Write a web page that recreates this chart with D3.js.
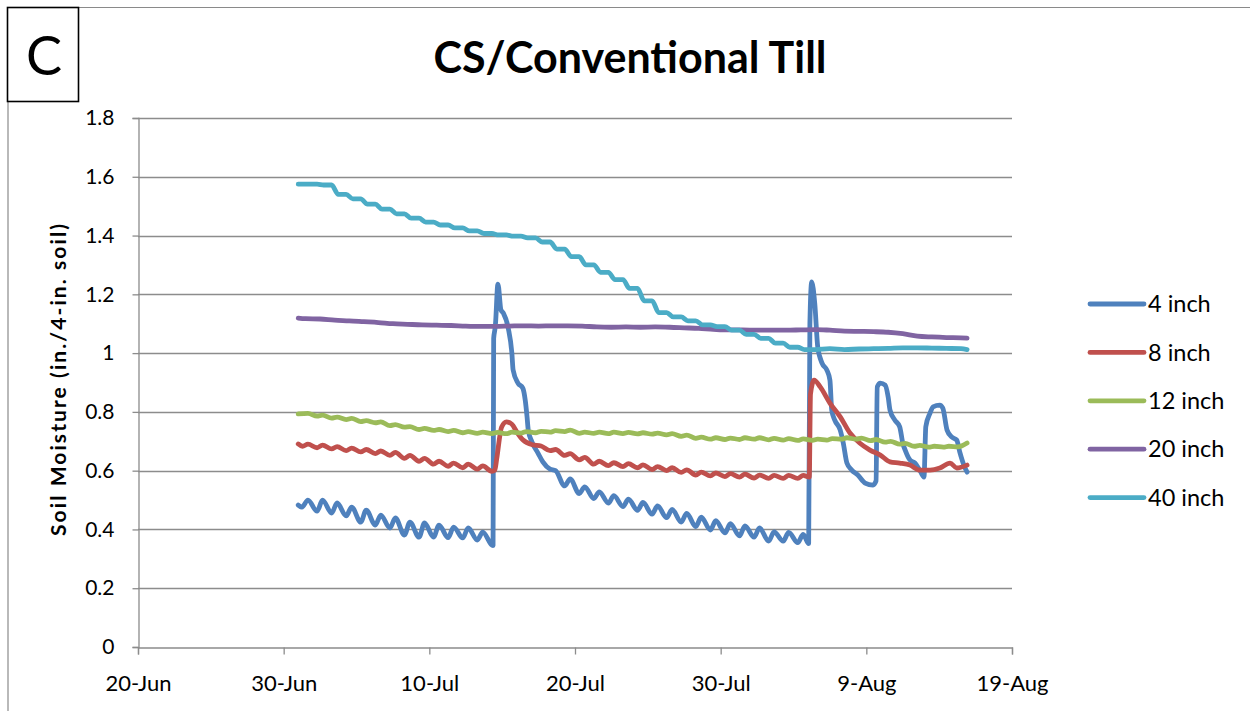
<!DOCTYPE html>
<html>
<head>
<meta charset="utf-8">
<script src="https://cdn.jsdelivr.net/npm/d3@7"></script>
<style>
  body { margin: 0; background: #fff; }
  svg { display: block; }
  text { font-family: Lato, "Open Sans", sans-serif; fill: #000; }
</style>
</head>
<body>
<div id="chart"></div>
<script>
const title = "CS/Conventional Till";
const panelLetter = "C";
const yLabel = "Soil Moisture (in./4-in. soil)";
const seriesNames = ["4 inch", "8 inch", "12 inch", "20 inch", "40 inch"];
const seriesColors = ["#4F81BD", "#C0504D", "#9BBB59", "#8064A2", "#4BACC6"];
const xTicks = ["6/20 00", "6/30 00", "7/10 00", "7/20 00", "7/30 00", "8/9 00", "8/19 00"];
const yTicks = [0, 0.2, 0.4, 0.6, 0.8, 1, 1.2, 1.4, 1.6, 1.8];

// readings: [month/day hour, in. water per 4 in. soil]
const inch4 = [
  ["7/1 00",.483],["7/1 06",.476],["7/1 16",.500],["7/2 07",.462],["7/2 16",.500],["7/3 07",.456],["7/3 16",.490],
  ["7/4 07",.446],["7/4 16",.476],["7/5 07",.425],["7/5 16",.466],["7/6 07",.415],["7/6 16",.449],["7/7 07",.405],
  ["7/7 16",.439],["7/8 07",.381],["7/8 16",.425],["7/9 07",.374],["7/9 16",.422],["7/10 07",.374],["7/10 16",.415],
  ["7/11 07",.372],["7/11 16",.408],["7/12 07",.371],["7/12 16",.405],["7/13 07",.364],["7/13 16",.391],["7/14 07",.347],
  ["7/14 09",.345],["7/14 10",1.05],["7/14 12",1.08],["7/14 13",1.10],["7/14 17",1.235],["7/14 22",1.147],["7/15 02",1.136],
  ["7/15 10",1.085],["7/15 16",1.0],["7/15 18",.943],["7/16 02",.898],["7/16 10",.881],["7/16 14",.84],["7/16 17",.783],
  ["7/16 19",.738],["7/17 01",.698],["7/17 11",.66],["7/17 19",.63],["7/18 07",.605],["7/18 16",.60],["7/19 07",.548],
  ["7/19 16",.572],["7/20 07",.522],["7/20 16",.545],["7/21 07",.505],["7/21 16",.528],["7/22 07",.49],["7/22 16",.515],
  ["7/23 07",.478],["7/23 16",.503],["7/24 07",.465],["7/24 16",.492],["7/25 07",.452],["7/25 16",.48],["7/26 07",.44],
  ["7/26 16",.468],["7/27 07",.425],["7/27 16",.455],["7/28 07",.41],["7/28 16",.442],["7/29 07",.398],["7/29 16",.43],
  ["7/30 07",.388],["7/30 16",.42],["7/31 07",.378],["7/31 16",.412],["8/1 07",.374],["8/1 16",.405],["8/2 07",.36],
  ["8/2 16",.392],["8/3 07",.36],["8/3 16",.39],["8/4 07",.355],["8/4 16",.383],["8/5 01",.352],["8/5 03",1.10],
  ["8/5 06",1.242],["8/5 11",1.17],["8/5 16",1.02],["8/5 23",.966],["8/6 07",.942],["8/6 12",.908],["8/6 15",.806],
  ["8/6 20",.772],["8/7 05",.738],["8/7 10",.694],["8/7 16",.626],["8/8 00",.602],["8/8 10",.585],["8/8 22",.558],
  ["8/9 11",.551],["8/9 16",.565],["8/9 18",.885],["8/9 23",.898],["8/10 07",.891],["8/10 12",.85],["8/10 15",.806],
  ["8/10 23",.772],["8/11 07",.749],["8/11 12",.694],["8/11 16",.67],["8/12 00",.636],["8/12 08",.626],["8/12 16",.602],
  ["8/12 23",.578],["8/13 02",.75],["8/13 09",.796],["8/13 14",.817],["8/14 01",.823],["8/14 06",.813],["8/14 13",.738],
  ["8/14 21",.714],["8/15 05",.704],["8/15 10",.663],["8/15 18",.612],["8/15 22",.595]
];

const inch8 = [
  ["7/1 00",.691],["7/1 07",.683],["7/1 16",.690],["7/2 07",.678],["7/2 16",.687],["7/3 07",.674],["7/3 16",.682],
  ["7/4 07",.668],["7/4 16",.677],["7/5 07",.664],["7/5 16",.672],["7/6 07",.658],["7/6 16",.667],["7/7 07",.652],
  ["7/7 16",.662],["7/8 07",.642],["7/8 16",.652],["7/9 07",.632],["7/9 16",.642],["7/10 07",.622],["7/10 16",.632],
  ["7/11 07",.615],["7/11 16",.626],["7/12 07",.610],["7/12 16",.622],["7/13 07",.605],["7/13 16",.616],["7/14 07",.598],
  ["7/14 12",.602],["7/14 15",.64],["7/14 23",.748],["7/15 07",.766],["7/15 16",.758],["7/16 00",.732],["7/16 10",.705],
  ["7/17 02",.688],["7/17 16",.684],["7/18 07",.668],["7/18 16",.672],["7/19 07",.652],["7/19 16",.658],["7/20 07",.637],
  ["7/20 16",.645],["7/21 07",.622],["7/21 16",.632],["7/22 07",.617],["7/22 16",.627],["7/23 07",.614],["7/23 16",.624],
  ["7/24 07",.610],["7/24 16",.620],["7/25 07",.604],["7/25 16",.614],["7/26 07",.600],["7/26 16",.610],["7/27 07",.594],
  ["7/27 16",.603],["7/28 07",.585],["7/28 16",.595],["7/29 07",.582],["7/29 16",.592],["7/30 07",.580],["7/30 16",.590],
  ["7/31 07",.578],["7/31 16",.588],["8/1 07",.575],["8/1 16",.585],["8/2 07",.574],["8/2 16",.584],["8/3 07",.574],
  ["8/3 16",.584],["8/4 07",.574],["8/4 16",.584],["8/5 02",.578],["8/5 04",.86],["8/5 10",.908],["8/5 20",.885],
  ["8/6 12",.83],["8/7 05",.783],["8/7 21",.728],["8/8 13",.694],["8/9 06",.67],["8/9 23",.653],["8/10 15",.63],
  ["8/11 07",.626],["8/12 00",.619],["8/12 16",.602],["8/13 09",.602],["8/14 01",.609],["8/14 18",.626],["8/15 05",.609],
  ["8/15 22",.619]
];

const inch12 = [
  ["7/1 00",.793],["7/1 16",.795],["7/2 07",.786],["7/2 16",.789],["7/3 07",.779],["7/3 16",.782],["7/4 07",.774],
  ["7/4 16",.778],["7/5 07",.767],["7/5 16",.770],["7/6 07",.763],["7/6 16",.766],["7/7 07",.753],["7/7 16",.757],
  ["7/8 07",.748],["7/8 16",.750],["7/9 07",.740],["7/9 16",.744],["7/10 07",.737],["7/10 16",.740],["7/11 07",.733],
  ["7/11 16",.737],["7/12 07",.729],["7/12 16",.733],["7/13 07",.727],["7/13 16",.731],["7/14 07",.726],["7/14 16",.730],
  ["7/15 07",.726],["7/15 16",.731],["7/16 07",.728],["7/16 16",.733],["7/17 07",.729],["7/17 16",.734],["7/18 07",.731],
  ["7/18 16",.736],["7/19 07",.733],["7/19 16",.738],["7/20 07",.727],["7/20 16",.731],["7/21 07",.727],["7/21 16",.731],
  ["7/22 07",.726],["7/22 16",.731],["7/23 07",.726],["7/23 16",.730],["7/24 07",.725],["7/24 16",.729],["7/25 07",.724],
  ["7/25 16",.728],["7/26 07",.722],["7/26 16",.726],["7/27 07",.717],["7/27 16",.721],["7/28 07",.710],["7/28 16",.714],
  ["7/29 07",.707],["7/29 16",.712],["7/30 07",.706],["7/30 16",.711],["7/31 07",.706],["7/31 16",.712],["8/1 07",.707],
  ["8/1 16",.712],["8/2 07",.705],["8/2 16",.710],["8/3 07",.704],["8/3 16",.709],["8/4 07",.703],["8/4 16",.708],
  ["8/5 07",.703],["8/5 16",.707],["8/6 07",.704],["8/6 16",.709],["8/7 07",.707],["8/7 16",.712],["8/8 07",.707],
  ["8/8 16",.711],["8/9 07",.702],["8/9 16",.706],["8/10 07",.697],["8/10 16",.700],["8/11 07",.690],["8/11 16",.693],
  ["8/12 07",.683],["8/12 16",.686],["8/13 07",.680],["8/13 16",.683],["8/14 07",.680],["8/14 16",.683],["8/15 07",.681],
  ["8/15 22",.694]
];

const inch20 = [
  ["7/1 00",1.119],["7/1 12",1.117],["7/2 12",1.116],["7/3 12",1.112],["7/4 12",1.110],["7/5 12",1.107],["7/6 12",1.104],
  ["7/7 12",1.100],["7/8 12",1.098],["7/9 12",1.096],["7/10 12",1.095],["7/11 12",1.094],["7/12 12",1.092],["7/13 12",1.091],
  ["7/14 12",1.091],["7/15 12",1.092],["7/16 12",1.093],["7/17 12",1.092],["7/18 12",1.093],["7/19 12",1.093],["7/20 12",1.092],
  ["7/21 12",1.089],["7/22 12",1.088],["7/23 12",1.089],["7/24 12",1.088],["7/25 12",1.089],["7/26 12",1.088],["7/27 12",1.086],
  ["7/28 12",1.084],["7/29 12",1.081],["7/30 12",1.079],["7/31 12",1.079],["8/1 12",1.078],["8/2 12",1.078],["8/3 12",1.078],
  ["8/4 12",1.079],["8/5 12",1.080],["8/6 12",1.078],["8/7 12",1.075],["8/8 12",1.074],["8/9 12",1.073],["8/10 12",1.071],
  ["8/11 12",1.066],["8/12 12",1.058],["8/13 12",1.055],["8/14 12",1.053],["8/15 12",1.052],["8/15 22",1.051]
];

const inch40 = [
  ["7/1 00",1.575],["7/1 07",1.575],["7/1 18",1.575],["7/2 07",1.575],["7/2 18",1.572],["7/3 07",1.572],["7/3 18",1.540],
  ["7/4 07",1.540],["7/4 18",1.525],["7/5 07",1.525],["7/5 18",1.507],["7/6 07",1.507],["7/6 18",1.490],["7/7 07",1.490],
  ["7/7 18",1.474],["7/8 07",1.474],["7/8 18",1.459],["7/9 07",1.459],["7/9 18",1.446],["7/10 07",1.446],["7/10 18",1.436],
  ["7/11 07",1.436],["7/11 18",1.426],["7/12 07",1.426],["7/12 18",1.416],["7/13 07",1.416],["7/13 18",1.407],["7/14 07",1.407],
  ["7/14 18",1.402],["7/15 07",1.402],["7/15 18",1.398],["7/16 07",1.398],["7/16 18",1.392],["7/17 07",1.392],["7/17 18",1.378],
  ["7/18 07",1.378],["7/18 18",1.354],["7/19 07",1.354],["7/19 18",1.328],["7/20 07",1.328],["7/20 18",1.300],["7/21 07",1.300],
  ["7/21 18",1.275],["7/22 07",1.275],["7/22 18",1.250],["7/23 07",1.250],["7/23 18",1.220],["7/24 07",1.220],["7/24 18",1.178],
  ["7/25 07",1.178],["7/25 18",1.138],["7/26 07",1.138],["7/26 18",1.123],["7/27 07",1.123],["7/27 18",1.110],["7/28 07",1.110],
  ["7/28 18",1.096],["7/29 07",1.096],["7/29 18",1.090],["7/30 07",1.090],["7/30 18",1.078],["7/31 07",1.078],["7/31 18",1.064],
  ["8/1 07",1.064],["8/1 18",1.050],["8/2 07",1.050],["8/2 18",1.034],["8/3 07",1.034],["8/3 18",1.020],["8/4 07",1.020],
  ["8/4 18",1.012],["8/5 12",1.012],["8/6 12",1.015],["8/7 12",1.012],["8/8 12",1.014],["8/9 12",1.015],["8/10 12",1.016],
  ["8/11 12",1.018],["8/12 12",1.018],["8/13 12",1.017],["8/14 12",1.016],["8/15 12",1.015],["8/15 22",1.012]
];

const allSeries = [inch4, inch8, inch12, inch20, inch40];

const width = 1250, height = 711;
const parse = d3.timeParse("%m/%d %H");
const fmt = d3.timeFormat("%-d-%b");

const svg = d3.select("#chart").append("svg")
  .attr("width", width)
  .attr("height", height);

svg.append("rect").attr("width", width).attr("height", height).attr("fill", "#fff");

const x = d3.scaleTime()
  .domain([parse(xTicks[0]), parse(xTicks[xTicks.length - 1])])
  .range([138, 1012]);

const y = d3.scaleLinear()
  .domain([0, 1.8])
  .range([647, 118]);

// outer frame and panel letter
svg.append("line").attr("x1", 79).attr("x2", width).attr("y1", 7.5).attr("y2", 7.5)
  .attr("stroke", "#8a8a8a").attr("stroke-width", 1.2);
svg.append("line").attr("x1", 8).attr("x2", 8).attr("y1", 102).attr("y2", height)
  .attr("stroke", "#8a8a8a").attr("stroke-width", 1.2);
svg.append("rect").attr("x", 7.5).attr("y", 7.5).attr("width", 71).attr("height", 94)
  .attr("fill", "#fff").attr("stroke", "#000").attr("stroke-width", 1.6);
svg.append("text").attr("x", 44).attr("y", 75).attr("text-anchor", "middle")
  .style("font-size", "54px").text(panelLetter);

svg.append("text").attr("x", 630).attr("y", 73).attr("text-anchor", "middle")
  .style("font-size", "43px").style("font-weight", "bold").text(title);

// gridlines
svg.append("g").selectAll("line").data(yTicks.slice(1)).join("line")
  .attr("x1", 138).attr("x2", 1012)
  .attr("y1", d => Math.round(y(d)) + 0.5).attr("y2", d => Math.round(y(d)) + 0.5)
  .attr("stroke", "#8c8c8c").attr("stroke-width", 1.3);

// y axis
const yAxis = svg.append("g")
  .attr("transform", "translate(138.5,0)")
  .call(d3.axisLeft(y).tickValues(yTicks).tickSize(6).tickPadding(18).tickFormat(d3.format("")));
yAxis.select(".domain").attr("stroke", "#8c8c8c").attr("stroke-width", 1.3);
yAxis.selectAll(".tick line").attr("stroke", "#8c8c8c").attr("stroke-width", 1.3);
yAxis.selectAll(".tick text").style("font-size", "21px").style("font-family", "Lato, sans-serif").attr("fill", "#000");

// x axis
const xAxis = svg.append("g")
  .attr("transform", "translate(0,647.5)")
  .call(d3.axisBottom(x).tickValues(xTicks.map(parse)).tickSize(7).tickPadding(21).tickFormat(fmt));
xAxis.select(".domain").attr("stroke", "#8c8c8c").attr("stroke-width", 1.3);
xAxis.selectAll(".tick line").attr("stroke", "#8c8c8c").attr("stroke-width", 1.3);
xAxis.selectAll(".tick text").style("font-size", "22px").style("font-family", "Lato, sans-serif").attr("fill", "#000");

svg.append("text")
  .attr("transform", "translate(66,380) rotate(-90)")
  .attr("text-anchor", "middle")
  .attr("textLength", 312)
  .attr("lengthAdjust", "spacing")
  .style("font-size", "21px").style("font-weight", "bold")
  .text(yLabel);

// series
const line = d3.line()
  .x(d => x(parse(d[0])))
  .y(d => y(d[1]))
  .curve(d3.curveMonotoneX);

svg.append("g").selectAll("path").data(allSeries).join("path")
  .attr("d", line)
  .attr("fill", "none")
  .attr("stroke", (d, i) => seriesColors[i])
  .attr("stroke-width", 4.8)
  .attr("stroke-linejoin", "round")
  .attr("stroke-linecap", "round");

// legend
const legend = svg.append("g").selectAll("g").data(seriesNames).join("g")
  .attr("transform", (d, i) => `translate(1089,${304 + i * 48.4})`);
legend.append("line").attr("x1", 1).attr("x2", 55)
  .attr("stroke", (d, i) => seriesColors[i]).attr("stroke-width", 4.8).attr("stroke-linecap", "round");
legend.append("text").attr("x", 59).attr("dy", "0.35em")
  .style("font-size", "23.5px").text(d => d);
</script>
</body>
</html>
